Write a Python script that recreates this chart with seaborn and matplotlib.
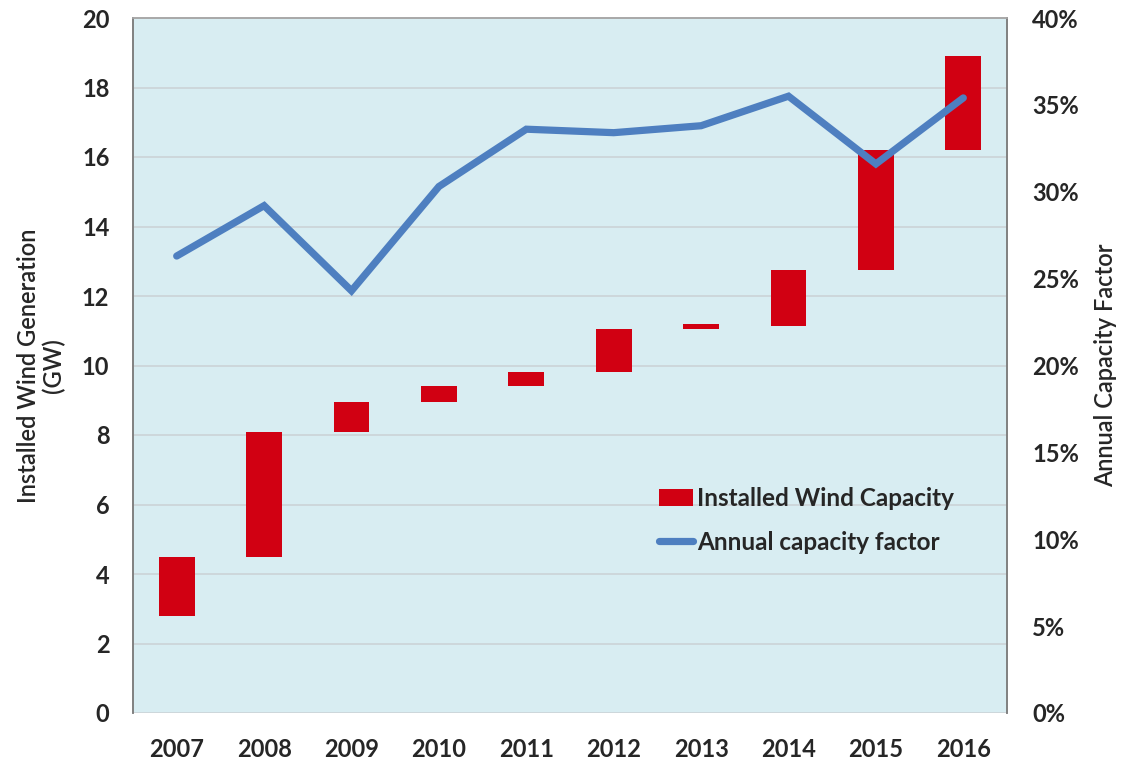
import numpy as np
import pandas as pd
import matplotlib
matplotlib.use("Agg")
import matplotlib.pyplot as plt
from matplotlib.patches import Patch
from matplotlib.lines import Line2D
from matplotlib.ticker import PercentFormatter
import seaborn as sns

# Installed wind capacity (GW) at the start and end of each year
years = ["2007", "2008", "2009", "2010", "2011", "2012", "2013", "2014", "2015", "2016"]
capacity_start = [2.8, 4.5, 8.1, 8.95, 9.4, 9.8, 11.05, 11.15, 12.75, 16.2]
capacity_end = [4.5, 8.1, 8.95, 9.4, 9.8, 11.05, 11.2, 12.75, 16.2, 18.9]
# Annual capacity factor (%)
capacity_factor = [26.3, 29.2, 24.3, 30.3, 33.6, 33.4, 33.8, 35.5, 31.6, 35.4]

left_ticks = list(range(0, 21, 2))
right_ticks = list(range(0, 41, 5))

RED = "#d10012"
BLUE = "#4e7fc0"
BG = "#d8edf2"
GRID = "#cbd3d7"

sns.set_style("white")
plt.rcParams["font.family"] = ["Lato", "DejaVu Sans"]

df = pd.DataFrame({
    "year": years,
    "start": capacity_start,
    "end": capacity_end,
    "cf": capacity_factor,
})
df["added"] = df["end"] - df["start"]

fig = plt.figure(figsize=(11.45, 7.66), dpi=100)
ax = fig.add_axes([133 / 1145, 53 / 766, 874 / 1145, 695 / 766])
ax.set_facecolor(BG)

sns.barplot(data=df, x="year", y="added", order=years, color=RED,
            saturation=1, width=0.41, bottom=df["start"].to_numpy(),
            edgecolor="none", linewidth=0,
            errorbar=None, ax=ax, zorder=3)

ax.set_ylim(0, 20)
ax.set_yticks(left_ticks)
ax.yaxis.grid(True, color=GRID, linewidth=1.2, zorder=0)
ax.set_axisbelow(True)
ax.set_xlabel("")
ax.set_ylabel("Installed Wind Generation\n(GW)", fontsize=17, fontweight="semibold",
              linespacing=1.05)
ax.yaxis.set_label_coords(-0.078, 0.5)
ax.tick_params(axis="both", length=0, labelsize=17)
ax.tick_params(axis="y", pad=17)
ax.tick_params(axis="x", pad=18)
for lbl in ax.get_xticklabels() + ax.get_yticklabels():
    lbl.set_fontweight("bold")

ax2 = ax.twinx()
sns.pointplot(data=df, x="year", y="cf", order=years, color=BLUE,
              markers="", linewidth=5.2, errorbar=None, ax=ax2)
for ln in ax2.lines:
    ln.set_solid_joinstyle("miter")
    ln.set_solid_capstyle("round")
ax2.set_ylim(0, 40)
ax2.set_yticks(right_ticks)
ax2.yaxis.set_major_formatter(PercentFormatter(decimals=0))
ax2.set_ylabel("Annual Capacity Factor", fontsize=17, fontweight="semibold")
ax2.yaxis.set_label_coords(1.10, 0.5)
ax2.tick_params(axis="y", length=0, labelsize=17, pad=18)
for lbl in ax2.get_yticklabels():
    lbl.set_fontweight("bold")
ax2.set_xlabel("")

for a in (ax, ax2):
    a.spines["bottom"].set_visible(False)
    a.spines["left"].set_color("#808080")
    a.spines["right"].set_color("#808080")
    a.spines["top"].set_color("#a8a8a8")
    for s in ("left", "right", "top"):
        a.spines[s].set_linewidth(1.2)

handles = [
    Patch(facecolor=RED, edgecolor="none", label="Installed Wind Capacity"),
    Line2D([0], [0], color=BLUE, linewidth=5.2, solid_capstyle="round",
           label="Annual capacity factor"),
]
leg = ax2.legend(handles=handles, loc="upper left", bbox_to_anchor=(0.602, 0.325),
                 frameon=False, prop={"size": 17.5, "weight": "bold"},
                 handlelength=1.4, handleheight=0.65, handletextpad=0.15,
                 labelspacing=0.85, borderaxespad=0, borderpad=0)

fig.savefig("out.png", dpi=100)
